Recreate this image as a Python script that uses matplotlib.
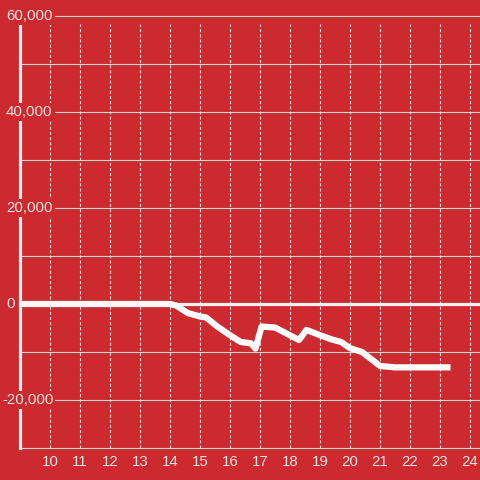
import matplotlib
matplotlib.use("Agg")
import matplotlib.pyplot as plt

# hour of day vs running balance
hours = [9, 10, 11, 12, 13, 14.0, 14.2, 14.6, 15.0, 15.2, 15.6, 16.0, 16.35, 16.7, 16.85,
         17.05, 17.5, 17.9, 18.3, 18.55, 19.0, 19.4, 19.7, 20.0, 20.4, 21.0, 21.5, 22.0, 23.35]
balance = [0, 0, 0, 0, 0, 0, -300, -1900, -2600, -2800, -4800, -6500, -7900, -8200, -9300,
           -4700, -4900, -6200, -7500, -5400, -6500, -7400, -7900, -9200, -10000, -12900,
           -13200, -13200, -13200]
x_ticks = list(range(10, 25))
y_grid = [60000, 50000, 40000, 30000, 20000, 10000, -10000, -20000, -30000]
y_labels = [60000, 40000, 20000, 0, -20000]

BG = "#cc2a2e"
TXT = "#f3e4e4"
plt.rcParams["font.family"] = ["Liberation Sans", "DejaVu Sans"]
plt.rcParams["lines.scale_dashes"] = False

fig = plt.figure(figsize=(4.8, 4.8), dpi=100, facecolor=BG)
ax = fig.add_axes([0, 0, 1, 1], facecolor=BG)
px_x = 1 / 30.0        # data units per pixel, x
px_y = 1000 / 4.8      # data units per pixel, y
x0 = 9 - 20 * px_x
ax.set_xlim(x0, x0 + 480 * px_x)
ax.set_ylim(-176 * px_y, 304 * px_y)
ax.axis("off")

# horizontal grid
for v in y_grid:
    ax.plot([9, 30], [v, v], color="#d4d4d4", lw=0.8, zorder=1)
# vertical dotted grid
for t in x_ticks:
    ax.plot([t, t], [-30000, 58300], color="#e6dada", lw=0.8,
            dashes=(2.2, 1.5), zorder=1)
# zero line and y axis
ax.plot([9, 30], [0, 0], color="#f4f0f0", lw=2.3, zorder=2)
ax.plot([9, 9], [-30000, 58300], color="#f4f0f0", lw=2.3, zorder=2)

# data line
ax.plot(hours, balance, color="white", lw=4.5, solid_joinstyle="round",
        solid_capstyle="butt", zorder=3)

# y labels with background boxes
for v in y_labels:
    xl = x0 + (2 if v < 0 else 6) * px_x
    ax.text(xl, v, f"{v:,}", ha="left", va="center", fontsize=10.8, color=TXT,
            zorder=4, bbox=dict(facecolor=BG, edgecolor="none", pad=1.5))
# x labels
for t in x_ticks:
    ax.text(t, -30000 - 14 * px_y, str(t), ha="center", va="center",
            fontsize=10.8, color=TXT, zorder=4)

fig.savefig("out.png", dpi=100, facecolor=BG)
